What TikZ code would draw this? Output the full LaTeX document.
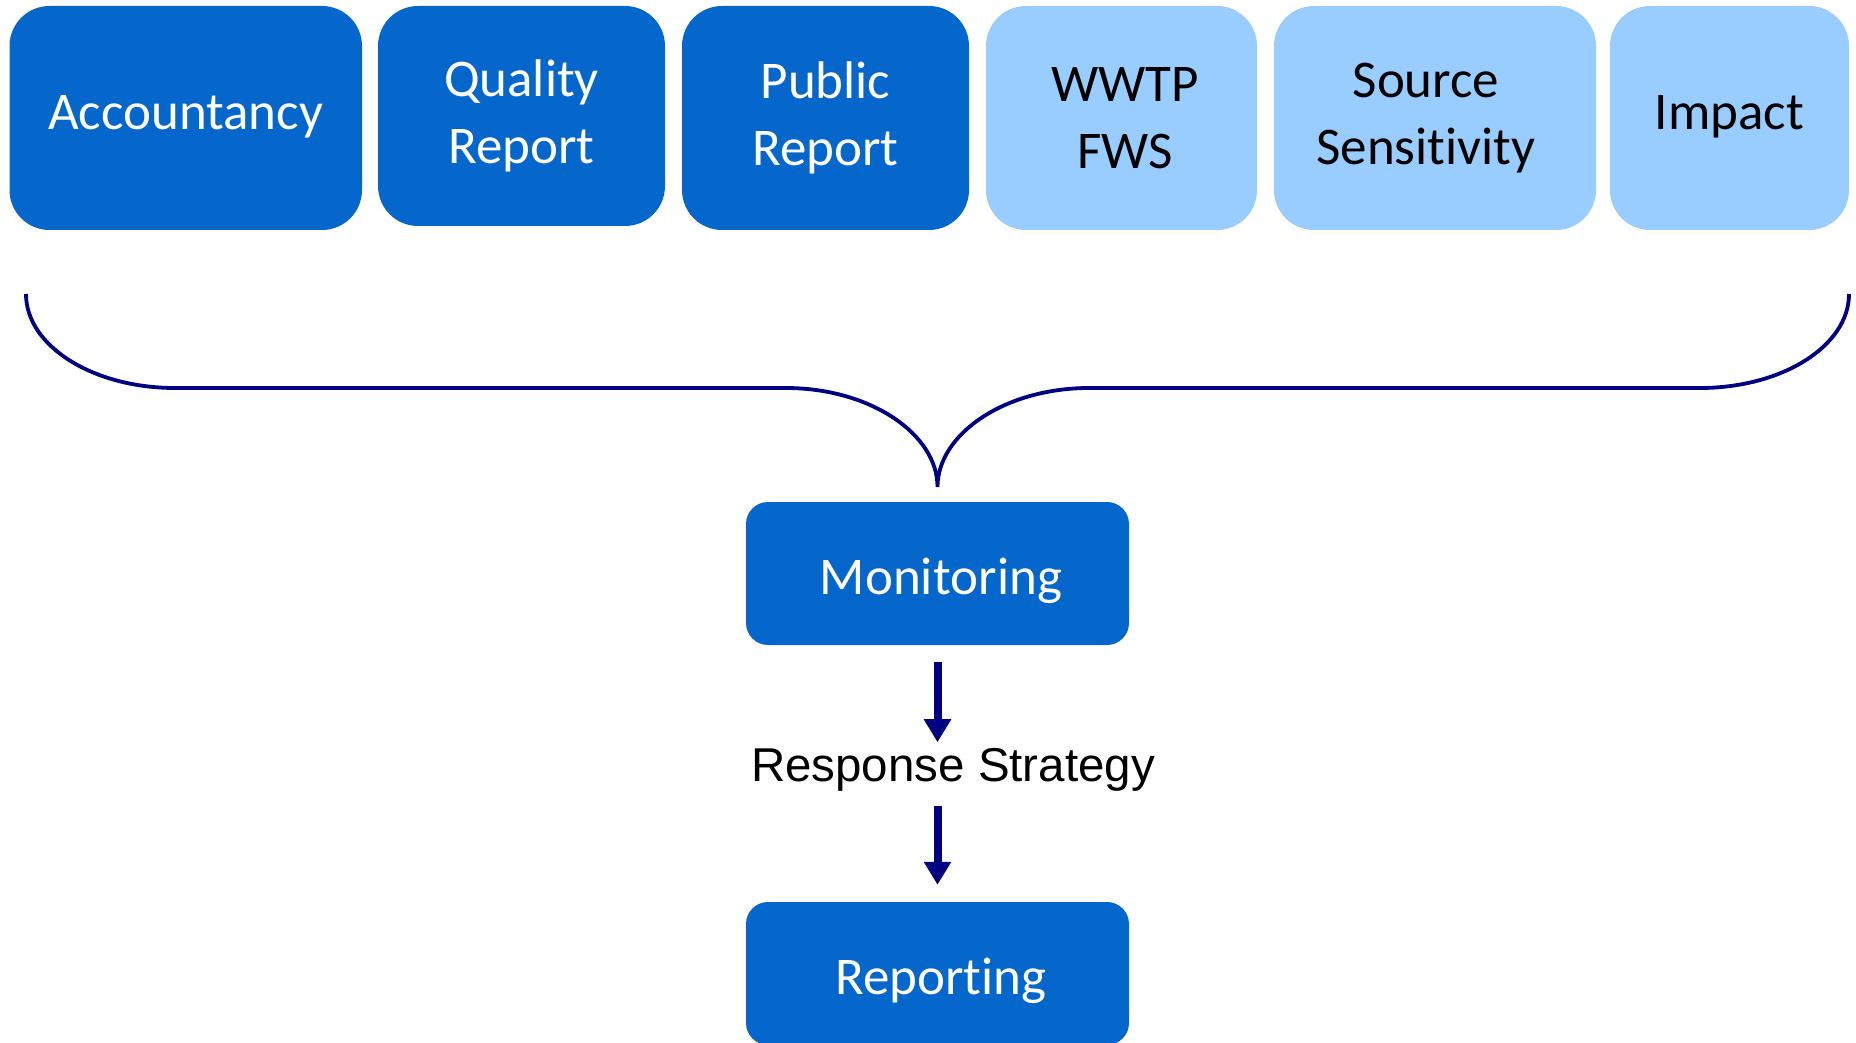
\documentclass[tikz,border=0pt]{standalone}
\usepackage{fontspec}
\newfontfamily\calib[RawFeature={-liga,-clig,-calt,-dlig}]{Carlito}
\newfontfamily\arialf{Liberation Sans}
\usetikzlibrary{arrows.meta}
\definecolor{darkbox}{HTML}{0566CB}
\definecolor{lightbox}{HTML}{99CCFF}
\definecolor{bracecol}{HTML}{000080}
\begin{document}
\begin{tikzpicture}[x=1pt,y=-1pt,
  topbox/.style={rounded corners=40pt, inner sep=0pt, minimum height=224pt, align=center,
    font=\calib\fontsize{53}{67}\selectfont},
  darkfill/.style={fill=darkbox, text=white},
  lightfill/.style={fill=lightbox, text=black},
  oneline/.style={text height=24pt, text depth=0pt},
  midbox/.style={rounded corners=22pt, inner sep=0pt, minimum width=383pt, minimum height=143pt,
    fill=darkbox, text=white, font=\calib\fontsize{53}{67}\selectfont, text height=41pt, text depth=0pt},
  brace/.style={draw=bracecol, line width=3.8pt},
  flow/.style={draw=bracecol, line width=8pt, -{Triangle[width=26pt,length=23pt]}}
]
\useasboundingbox (0,0) rectangle (1856,1043);
\fill[white] (0,0) rectangle (1856,1043);

\node[topbox, darkfill, oneline, minimum width=352.5pt] (acc) at (185.75,118) {Accountancy};
\node[topbox, darkfill, minimum width=287pt, minimum height=220pt] (qual) at (521.5,116) {Quality\\Report};
\node[topbox, darkfill, minimum width=287pt] (pub) at (825.5,118) {Public\\Report};
\node[topbox, lightfill, minimum width=271pt] (wwtp) at (1121.5,118) {\hspace*{7pt}WWTP\\\hspace*{7pt}FWS};
\node[topbox, lightfill, minimum width=322pt] (src) at (1435,118) {Source\hspace*{18pt}\\Sensit\kern0pt ivity\hspace*{18pt}};
\node[topbox, lightfill, oneline, minimum width=239pt] (imp) at (1729.5,118) {Impact};

\coordinate (bL) at (26,294);
\coordinate (bR) at (1849,294);
\coordinate (bTip) at (937.5,487);
\draw[brace] (bL) .. controls (26,346) and (93,388) .. (175,388) -- (786,388)
  .. controls (870,388) and (937.5,434) .. (bTip)
  .. controls (937.5,434) and (1005,388) .. (1089,388) -- (1700,388)
  .. controls (1782,388) and (1849,346) .. (bR);

\node[midbox] (mon) at (937.5,573.5) {\hspace*{7pt}Monit\kern0pt oring};
\node[font=\arialf\fontsize{47.5}{57}\selectfont, inner sep=0pt, anchor=base] (resp) at (953,781.6) {Response Strategy};
\node[midbox] (rep) at (937.5,973.5) {\hspace*{7pt}Reporting};

\draw[flow, shorten <=17pt, shorten >=6pt] (mon.south) -- (mon.south |- resp.north);
\draw[flow, shorten <=14pt, shorten >=17pt] (mon.south |- resp.south) -- (rep.north);
\end{tikzpicture}
\end{document}
